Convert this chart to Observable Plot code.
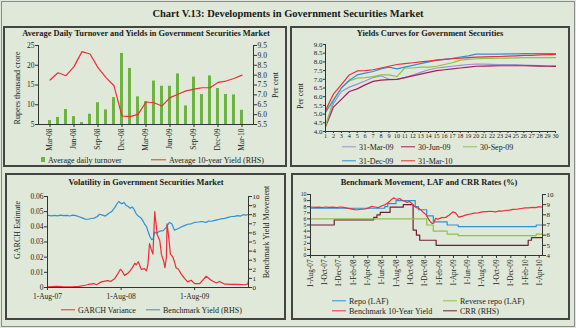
<!DOCTYPE html>
<html><head><meta charset="utf-8">
<script src="https://cdn.jsdelivr.net/npm/d3@7"></script>
<script src="https://cdn.jsdelivr.net/npm/@observablehq/plot@0.6"></script>
<style>
body{margin:0;background:#fff}
#root{position:relative;width:576px;height:328px;background:#e0e9d9;overflow:hidden;font-family:"Liberation Serif",serif;color:#222}
.frame{position:absolute;left:1px;top:1px;width:572px;height:324px;border:1px solid #8a8a8a}
.panel{position:absolute;border:2px solid #444;box-sizing:border-box}
.ttl{position:absolute;white-space:nowrap;font-weight:bold;transform:translate(-50%,-50%);color:#1a1a1a}
.lab{position:absolute;white-space:nowrap;font-size:8px;transform:translate(-50%,-50%) rotate(-90deg)}
.leg{position:absolute;white-space:nowrap;font-size:8px;transform:translateY(-50%)}
.ln{position:absolute;height:1.4px;transform:translateY(-50%)}
svg{position:absolute}
</style></head>
<body><div id="root"><div class="frame"></div></div>
<script>
// ---------- Panel 1 data ----------
const months1 = ["Mar-08","Apr-08","May-08","Jun-08","Jul-08","Aug-08","Sep-08","Oct-08","Nov-08","Dec-08","Jan-09","Feb-09","Mar-09","Apr-09","May-09","Jun-09","Jul-09","Aug-09","Sep-09","Oct-09","Nov-09","Dec-09","Jan-10","Feb-10","Mar-10"];
const turnover = [6.0,6.8,8.8,7.0,5.5,7.6,10.5,8.7,11.8,23.0,19.2,12.0,10.8,16.0,14.7,14.7,17.8,9.7,17.0,12.6,17.3,14.1,12.6,12.5,8.6];
const avgYield = [7.75,8.12,7.97,8.43,9.19,9.07,8.38,7.87,7.46,5.93,5.90,6.01,6.64,6.60,6.44,6.86,7.03,7.20,7.29,7.36,7.36,7.63,7.70,7.83,8.00];
const turnoverTicks = [5,10,15,20,25];
const yieldTicks1 = [5.5,6.0,6.5,7.0,7.5,8.0,8.5,9.0,9.5];
const xLabels1 = ["Mar-08","Jun-08","Sep-08","Dec-08","Mar-09","Jun-09","Sep-09","Dec-09","Mar-10"];

// ---------- Panel 2 data ----------
const maturities = [1,2,3,4,5,6,7,8,9,10,11,12,13,14,15,16,17,18,19,20,21,22,23,24,25,26,27,28,29,30];
const yc31Mar09 = [4.35,5.60,6.30,6.55,6.72,6.90,7.10,7.20,7.00,7.00,7.10,7.25,7.40,7.55,7.65,7.70,7.75,7.80,7.85,7.87,7.87,7.86,7.85,7.85,7.84,7.82,7.80,7.79,7.78,7.77];
const yc30Jun09 = [4.25,5.40,5.85,6.30,6.45,6.68,6.88,6.95,6.98,7.00,7.10,7.20,7.30,7.40,7.50,7.55,7.60,7.65,7.70,7.75,7.76,7.77,7.78,7.78,7.78,7.78,7.77,7.76,7.75,7.74];
const yc30Sep09 = [4.30,5.80,6.50,6.90,7.07,7.10,7.15,7.25,7.25,7.15,7.65,7.65,7.70,7.70,7.75,7.85,7.95,8.10,8.15,8.18,8.20,8.20,8.21,8.22,8.23,8.24,8.25,8.25,8.25,8.25];
const yc31Dec09 = [5.10,5.80,6.50,6.95,7.25,7.35,7.45,7.60,7.70,7.60,7.70,7.80,7.90,8.00,8.10,8.15,8.20,8.28,8.35,8.45,8.45,8.45,8.45,8.46,8.46,8.47,8.47,8.48,8.48,8.48];
const yc31Mar10 = [5.20,6.15,6.70,7.25,7.48,7.50,7.55,7.65,7.75,7.85,7.90,7.95,8.00,8.05,8.10,8.15,8.18,8.22,8.25,8.27,8.29,8.30,8.31,8.33,8.35,8.37,8.38,8.40,8.42,8.43];
const curveNames = ["31-Mar-09","30-Jun-09","30-Sep-09","31-Dec-09","31-Mar-10"];
const curveColors = ["#9d90d4","#a51d5c","#8dc24c","#2e8fdb","#ee2c3a"];
const yieldTicks2 = [4.0,4.5,5.0,5.5,6.0,6.5,7.0,7.5,8.0,8.5,9.0];

// ---------- Panel 3 / 4 data ----------
const benchDates = ["2007-08-01","2007-08-20","2007-09-05","2007-09-20","2007-10-05","2007-10-20","2007-11-05","2007-11-20","2007-12-05","2007-12-20","2008-01-05","2008-01-20","2008-02-05","2008-02-20","2008-03-05","2008-03-20","2008-04-05","2008-04-15","2008-05-01","2008-05-15","2008-06-01","2008-06-15","2008-07-01","2008-07-10","2008-07-20","2008-07-28","2008-08-05","2008-08-15","2008-08-25","2008-09-05","2008-09-15","2008-09-25","2008-10-05","2008-10-15","2008-10-25","2008-11-05","2008-11-15","2008-11-25","2008-12-05","2008-12-12","2008-12-22","2008-12-31","2009-01-06","2009-01-15","2009-01-24","2009-02-09","2009-02-26","2009-03-13","2009-03-29","2009-04-10","2009-04-23","2009-05-10","2009-05-26","2009-06-12","2009-06-28","2009-07-15","2009-08-01","2009-08-20","2009-09-04","2009-09-28","2009-10-10","2009-10-22","2009-11-10","2009-11-26","2009-12-10","2009-12-29","2010-01-15","2010-02-01","2010-02-15","2010-03-04","2010-03-18","2010-03-30","2010-04-12","2010-04-26"];
const benchYield = [7.95,7.88,7.93,7.87,7.95,7.90,7.93,7.86,7.95,7.90,7.78,7.65,7.52,7.50,7.58,7.62,7.80,8.05,7.95,7.85,8.15,8.35,8.80,9.15,9.45,9.30,9.20,9.35,9.05,8.90,8.70,8.85,8.55,8.10,7.85,7.70,7.40,7.00,6.70,6.20,5.60,5.25,5.30,6.10,5.95,6.20,6.25,6.60,7.15,7.00,6.30,6.45,6.65,6.80,6.95,7.00,7.15,7.20,7.25,7.15,7.30,7.28,7.38,7.45,7.55,7.60,7.70,7.80,7.82,7.90,7.85,8.00,7.95,8.02];
const garchDates = ["2007-08-01","2007-09-15","2007-10-15","2007-12-01","2008-01-05","2008-02-05","2008-02-20","2008-03-20","2008-04-01","2008-04-25","2008-05-25","2008-06-10","2008-07-01","2008-07-20","2008-07-28","2008-08-05","2008-08-18","2008-09-05","2008-09-24","2008-10-08","2008-10-15","2008-10-25","2008-11-09","2008-11-25","2008-12-05","2008-12-12","2008-12-20","2008-12-29","2009-01-06","2009-01-15","2009-01-27","2009-02-09","2009-02-17","2009-03-01","2009-03-07","2009-03-14","2009-03-17","2009-03-24","2009-04-03","2009-04-15","2009-04-23","2009-05-01","2009-05-13","2009-05-26","2009-06-12","2009-06-28","2009-07-15","2009-08-01","2009-08-26","2009-09-28","2009-10-22","2009-11-17","2009-12-03","2009-12-29","2010-02-01","2010-03-04","2010-04-07","2010-04-22","2010-04-26"];
const garchVar = [0.0005,0.0008,0.0006,0.0005,0.0008,0.0015,0.0020,0.0025,0.0018,0.0037,0.0045,0.0040,0.0060,0.0100,0.0120,0.0110,0.0080,0.0095,0.0126,0.0160,0.0150,0.0170,0.0120,0.0125,0.0110,0.0150,0.0290,0.0250,0.0220,0.0500,0.0350,0.0310,0.0220,0.0170,0.0130,0.0200,0.0420,0.0350,0.0220,0.0200,0.0170,0.0130,0.0120,0.0090,0.0060,0.0037,0.0048,0.0026,0.0026,0.0074,0.0048,0.0030,0.0040,0.0022,0.0020,0.0020,0.0018,0.0022,0.0045];
const garchTicks = [0,0.01,0.02,0.03,0.04,0.05,0.06];
const yieldTicks3 = [0,1,2,3,4,5,6,7,8,9,10];
const xTicks3 = ["2007-08-01","2008-08-01","2009-08-01"];

const repoDates = ["2007-08-01","2008-06-12","2008-06-25","2008-07-30","2008-10-20","2008-11-03","2008-12-08","2009-01-05","2009-03-05","2009-04-21","2010-03-19","2010-04-15"];
const repoRate = [7.75,8.0,8.5,9.0,8.0,7.5,6.5,5.5,5.0,4.75,5.0,5.0];
const revRepoDates = ["2007-08-01","2008-12-08","2009-01-05","2009-03-05","2009-04-21","2010-03-19","2010-04-15"];
const revRepoRate = [6.0,5.0,4.0,3.5,3.25,3.5,3.5];
const crrDates = ["2007-08-01","2007-11-10","2008-04-26","2008-05-10","2008-05-24","2008-07-05","2008-08-30","2008-10-11","2008-10-25","2008-11-08","2009-01-17","2010-02-13","2010-02-27","2010-04-15"];
const crrRate = [7.0,7.5,7.75,8.0,8.25,8.75,9.0,6.5,6.0,5.5,5.0,5.5,5.75,5.75];
const leftTicks4 = [0,1,2,3,4,5,6,7,8,9,10];
const rightTicks4 = [4,5,6,7,8,9,10];
const xTicks4 = ["2007-08-01","2007-10-01","2007-12-01","2008-02-01","2008-04-01","2008-06-01","2008-08-01","2008-10-01","2008-12-01","2009-02-01","2009-04-01","2009-06-01","2009-08-01","2009-10-01","2009-12-01","2010-02-01","2010-04-01"];

// ---------- helpers ----------
const root = document.getElementById("root");
function div(cls, css, text){const d=document.createElement("div");d.className=cls;Object.assign(d.style,css);if(text!=null)d.textContent=text;root.appendChild(d);return d;}
function put(svg,left,top){svg.style.left=left+"px";svg.style.top=top+"px";root.appendChild(svg);}
function legLine(x,y,color,label,w=14){div("ln",{left:x+"px",top:y+"px",width:w+"px",background:color});div("leg",{left:(x+w+3)+"px",top:y+"px"},label);}
const baseStyle = {fontFamily:"Liberation Serif, serif",fontSize:"7.5px",background:"none",color:"#222",overflow:"visible"};
const AX = "#333";
const D = s => new Date(s);

// title
div("ttl",{left:"288px",top:"13px",fontSize:"10.5px"},"Chart V.13: Developments in Government Securities Market");
// panels
div("panel",{left:"3px",top:"26px",width:"284px",height:"141px"});
div("panel",{left:"290px",top:"26px",width:"280px",height:"141px"});
div("panel",{left:"5px",top:"173px",width:"281px",height:"147px"});
div("panel",{left:"291px",top:"173px",width:"279px",height:"147px"});

// ---------- Panel 1 ----------
div("ttl",{left:"146px",top:"33px",fontSize:"8.4px"},"Average Daily Turnover and Yields in Government Securities Market");
const p1 = months1.map((m,i)=>({m,t:turnover[i],y:avgYield[i]}));
const r1 = v => turnoverTicks[0] + (v - yieldTicks1[0]) * (turnoverTicks[4]-turnoverTicks[0])/(yieldTicks1[8]-yieldTicks1[0]);
const r1inv = v => yieldTicks1[0] + (v - turnoverTicks[0]) * (yieldTicks1[8]-yieldTicks1[0])/(turnoverTicks[4]-turnoverTicks[0]);
put(Plot.plot({
  width:283,height:112,marginLeft:35,marginRight:33,marginTop:7,marginBottom:26,style:baseStyle,
  x:{type:"band",domain:months1,paddingInner:0.57,paddingOuter:0.085},
  y:{domain:[turnoverTicks[0],turnoverTicks[4]]},
  marks:[
    Plot.barY(p1,{x:"m",y1:()=>turnoverTicks[0],y2:"t",fill:"#6db33f"}),
    Plot.line(p1,{x:"m",y:d=>r1(d.y),stroke:"#ee2c3a",strokeWidth:1.2}),
    Plot.frame({anchor:"left",stroke:AX}),
    Plot.frame({anchor:"right",stroke:AX}),
    Plot.frame({anchor:"bottom",stroke:AX}),
    Plot.axisY({anchor:"left",ticks:turnoverTicks,tickSize:3,tickPadding:1,label:null,stroke:AX}),
    Plot.axisY({anchor:"right",ticks:yieldTicks1.map(r1),tickFormat:v=>r1inv(v).toFixed(1),tickSize:3,tickPadding:1,label:null,stroke:AX}),
    Plot.axisX({ticks:xLabels1,tickRotate:-90,tickSize:3,tickPadding:1,label:null,stroke:AX})
  ]
}),3,38);
div("lab",{left:"17px",top:"88px"},"Rupees thousand crore");
div("lab",{left:"275px",top:"85px"},"Per cent");
div("",{position:"absolute",left:"41px",top:"157px",width:"4px",height:"5px",background:"#6db33f"});
div("leg",{left:"48px",top:"159.5px"},"Average daily  turnover");
legLine(151,159.5,"#ee2c3a","Average 10-year Yield (RHS)",15);

// ---------- Panel 2 ----------
div("ttl",{left:"430px",top:"33px",fontSize:"8.4px"},"Yields Curves for Government Securities");
const curves = [yc31Mar09,yc30Jun09,yc30Sep09,yc31Dec09,yc31Mar10];
const p2 = curves.flatMap((arr,k)=>arr.map((v,i)=>({s:curveNames[k],x:maturities[i],v})));
put(Plot.plot({
  width:278,height:104,marginLeft:35,marginRight:13,marginTop:6,marginBottom:11,style:baseStyle,
  x:{domain:[maturities[0],maturities[29]]},
  y:{domain:[yieldTicks2[0],yieldTicks2[10]]},
  color:{domain:curveNames,range:curveColors},
  marks:[
    Plot.line(p2,{x:"x",y:"v",z:"s",stroke:"s",strokeWidth:1.2}),
    Plot.frame({anchor:"left",stroke:AX}),
    Plot.frame({anchor:"bottom",stroke:AX}),
    Plot.axisY({ticks:yieldTicks2,tickFormat:v=>v.toFixed(1),tickSize:2,tickPadding:1,fontSize:7,label:null,stroke:AX}),
    Plot.axisX({ticks:maturities,tickFormat:d=>String(d),tickSize:2,tickPadding:0,fontSize:6.2,label:null,stroke:AX})
  ]
}),290,38);
div("lab",{left:"300px",top:"96px"},"Per cent");
legLine(342,147,curveColors[0],curveNames[0]);
legLine(401,147,curveColors[1],curveNames[1]);
legLine(463,147,curveColors[2],curveNames[2]);
legLine(342,161,curveColors[3],curveNames[3]);
legLine(401,161,curveColors[4],curveNames[4]);

// ---------- Panel 3 ----------
div("ttl",{left:"146px",top:"182px",fontSize:"8.4px"},"Volatility in Government Securities Market");
const scale3 = garchTicks[6]/yieldTicks3[10];
const p3g = garchDates.map((d,i)=>({d:D(d),v:garchVar[i]}));
const p3b = benchDates.map((d,i)=>({d:D(d),v:benchYield[i]}));
put(Plot.plot({
  width:280,height:112,marginLeft:42,marginRight:37,marginTop:8,marginBottom:13,style:baseStyle,
  x:{type:"utc",domain:[D(xTicks3[0]),D("2010-04-26")]},
  y:{domain:[garchTicks[0],garchTicks[6]]},
  marks:[
    Plot.line(p3b,{x:"d",y:d=>d.v*scale3,stroke:"#2e8fdb",strokeWidth:1.2}),
    Plot.line(p3g,{x:"d",y:"v",stroke:"#ee2c3a",strokeWidth:1.2}),
    Plot.frame({anchor:"left",stroke:AX}),
    Plot.frame({anchor:"right",stroke:AX}),
    Plot.frame({anchor:"bottom",stroke:AX}),
    Plot.axisY({anchor:"left",ticks:garchTicks,tickFormat:v=>v===0?"0":v.toFixed(2),tickSize:3,tickPadding:1,label:null,stroke:AX}),
    Plot.axisY({anchor:"right",ticks:yieldTicks3.map(v=>v*scale3),tickFormat:v=>String(Math.round(v/scale3)),tickSize:3,tickPadding:1,fontSize:7,label:null,stroke:AX}),
    Plot.axisX({ticks:xTicks3.map(D),tickFormat:d3.utcFormat("%-d-%b-%y"),tickSize:3,tickPadding:3,label:null,stroke:AX})
  ]
}),5,188);
div("lab",{left:"17px",top:"230px"},"GARCH Estimate");
div("lab",{left:"266px",top:"232px"},"Benchmark Yield Movement");
legLine(61,310,"#ee2c3a","GARCH Variance");
legLine(146,310,"#2e8fdb","Benchmark Yield (RHS)");

// ---------- Panel 4 ----------
div("ttl",{left:"429px",top:"182px",fontSize:"8.4px"},"Benchmark Movement, LAF and CRR Rates (%)");
const r4 = v => (v - rightTicks4[0]) * (leftTicks4[10]-leftTicks4[0])/(rightTicks4[6]-rightTicks4[0]);
const r4inv = v => rightTicks4[0] + v*(rightTicks4[6]-rightTicks4[0])/(leftTicks4[10]-leftTicks4[0]);
const repo = repoDates.map((d,i)=>({d:D(d),v:repoRate[i]}));
const rev = revRepoDates.map((d,i)=>({d:D(d),v:revRepoRate[i]}));
const crr = crrDates.map((d,i)=>({d:D(d),v:crrRate[i]}));
put(Plot.plot({
  width:279,height:105,marginLeft:19,marginRight:28,marginTop:6,marginBottom:38,style:baseStyle,
  x:{type:"utc",domain:[D(xTicks4[0]),D("2010-04-15")]},
  y:{domain:[leftTicks4[0],leftTicks4[10]]},
  marks:[
    Plot.line(crr,{x:"d",y:d=>r4(d.v),stroke:"#6e1f36",strokeWidth:1.2,curve:"step-after"}),
    Plot.line(rev,{x:"d",y:"v",stroke:"#8dc24c",strokeWidth:1.2,curve:"step-after"}),
    Plot.line(repo,{x:"d",y:"v",stroke:"#2e8fdb",strokeWidth:1.2,curve:"step-after"}),
    Plot.line(p3b,{x:"d",y:"v",stroke:"#ee2c3a",strokeWidth:1.2,clip:true}),
    Plot.frame({anchor:"left",stroke:AX}),
    Plot.frame({anchor:"right",stroke:AX}),
    Plot.frame({anchor:"bottom",stroke:AX}),
    Plot.axisY({anchor:"left",ticks:leftTicks4,tickSize:3,tickPadding:1,fontSize:5.8,label:null,stroke:AX}),
    Plot.axisY({anchor:"right",ticks:rightTicks4.map(r4),tickFormat:v=>String(Math.round(r4inv(v))),tickSize:3,tickPadding:1,fontSize:7,label:null,stroke:AX}),
    Plot.axisX({ticks:xTicks4.map(D),tickFormat:d3.utcFormat("%-d-%b-%y"),tickRotate:-90,tickSize:3,tickPadding:1,fontSize:7.2,label:null,stroke:AX})
  ]
}),291,188);
legLine(332,301,"#2e8fdb","Repo (LAF)");
legLine(443,301,"#8dc24c","Reverse repo (LAF)");
legLine(332,311,"#ee2c3a","Benchmark 10-Year Yield");
legLine(443,311,"#6e1f36","CRR (RHS)");
</script></body></html>
